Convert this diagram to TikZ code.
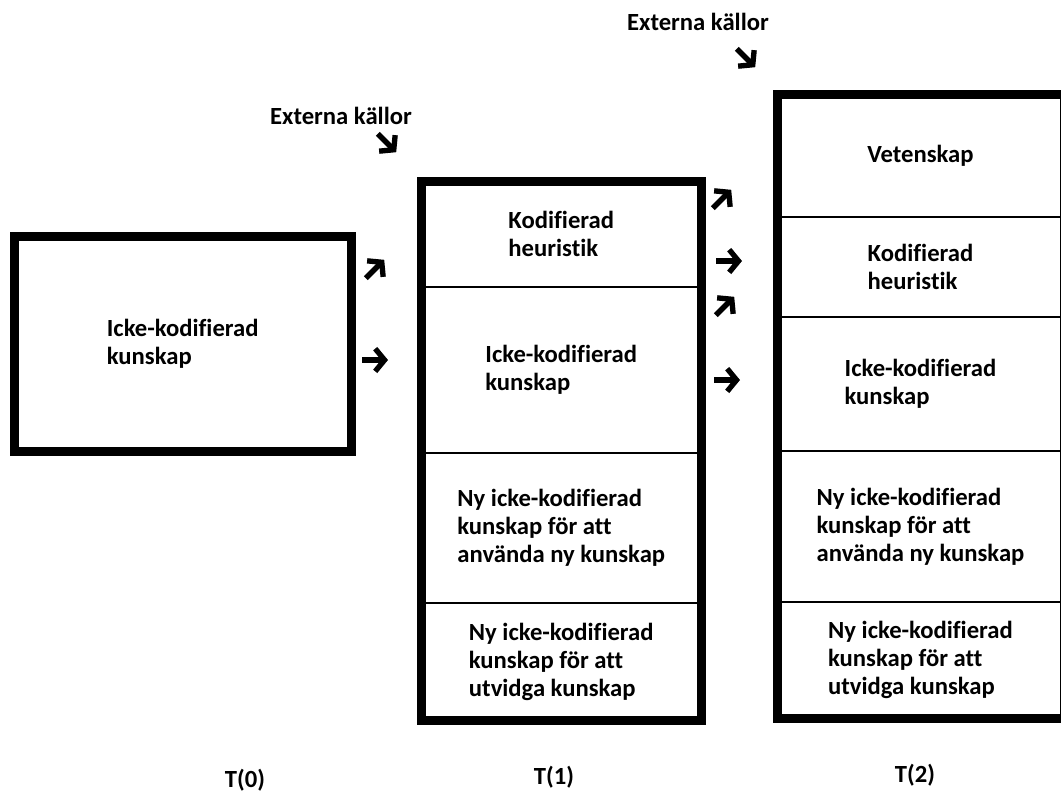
\documentclass[tikz,border=0pt]{standalone}
\usepackage{fontspec}
\setmainfont{Carlito}[Ligatures=NoCommon]
\usetikzlibrary{positioning,arrows.meta}

\tikzset{
  txt/.style={font=\bfseries\fontsize{18.5}{21}\selectfont},
  cell/.style={txt, draw, line width=1pt, inner sep=0pt, outer sep=0pt, align=left},
  frame/.style={line width=6.75pt},
  bigarrow/.style={line width=4pt, -{Straight Barb[length=7pt,width=17pt]}}
}

\begin{document}
\begin{tikzpicture}[x=0.75pt, y=-0.75pt]
    \useasboundingbox (0,0) rectangle (1061,794);

    % T(0)
    \node[cell, frame, minimum width=253.1pt, minimum height=161.25pt, anchor=north west] (k0) at (14,236.5) {Icke-kodifierad\\kunskap};

    % T(1)
    \node[cell, minimum width=210.4pt, minimum height=79.1pt, anchor=north west] (m1) at (421,181.5) {Kodifierad\\heuristik};
    \node[cell, minimum width=210.4pt, minimum height=124.5pt, below=0pt of m1] (m2) {Icke-kodifierad\\kunskap};
    \node[cell, minimum width=210.4pt, minimum height=112.5pt, below=0pt of m2] (m3) {Ny icke-kodifierad\\kunskap för att\\använda ny kunskap};
    \node[cell, minimum width=210.4pt, minimum height=88.5pt, below=0pt of m3] (m4) {Ny icke-kodifierad\\kunskap för att\\utvidga kunskap};
    \draw[frame] (m1.north west) rectangle (m4.south east);

    % T(2)
    \node[cell, minimum width=215.25pt, minimum height=91.9pt, anchor=north west] (r1) at (777,94.5) {Vetenskap};
    \node[cell, minimum width=215.25pt, minimum height=75pt, below=0pt of r1] (r2) {Kodifierad\\heuristik};
    \node[cell, minimum width=215.25pt, minimum height=100.5pt, below=0pt of r2] (r3) {Icke-kodifierad\\kunskap};
    \node[cell, minimum width=215.25pt, minimum height=113.25pt, below=0pt of r3] (r4) {Ny icke-kodifierad\\kunskap för att\\använda ny kunskap};
    \node[cell, minimum width=215.25pt, minimum height=87.4pt, below=0pt of r4] (r5) {Ny icke-kodifierad\\kunskap för att\\utvidga kunskap};
    \draw[frame] (r1.north west) rectangle (r5.south east);

    \node[txt, anchor=base] (src1) at (341,124) {Externa källor};
    \node[txt, anchor=base] (src2) at (698,30) {Externa källor};

    \node[txt, anchor=base] (t0) at (245,787) {T(0)};
    \node[txt, anchor=base] (t1) at (554,784) {T(1)};
    \node[txt, anchor=base] (t2) at (915,782) {T(2)};

    % arrows
    \foreach \name/\x/\y/\a in {s1/387/143/45, s2/746/58/45,
        a1/375/269/-45, a2/375/360/0,
        b1/722/199/-45, b2/729/261/0, b3/725/306/-45, b4/727/380/0} {
        \coordinate (\name) at (\x,\y);
        \draw[bigarrow] ([shift={(\a+180:13)}]\name) -- ([shift={(\a:13)}]\name);
    }
\end{tikzpicture}
\end{document}
